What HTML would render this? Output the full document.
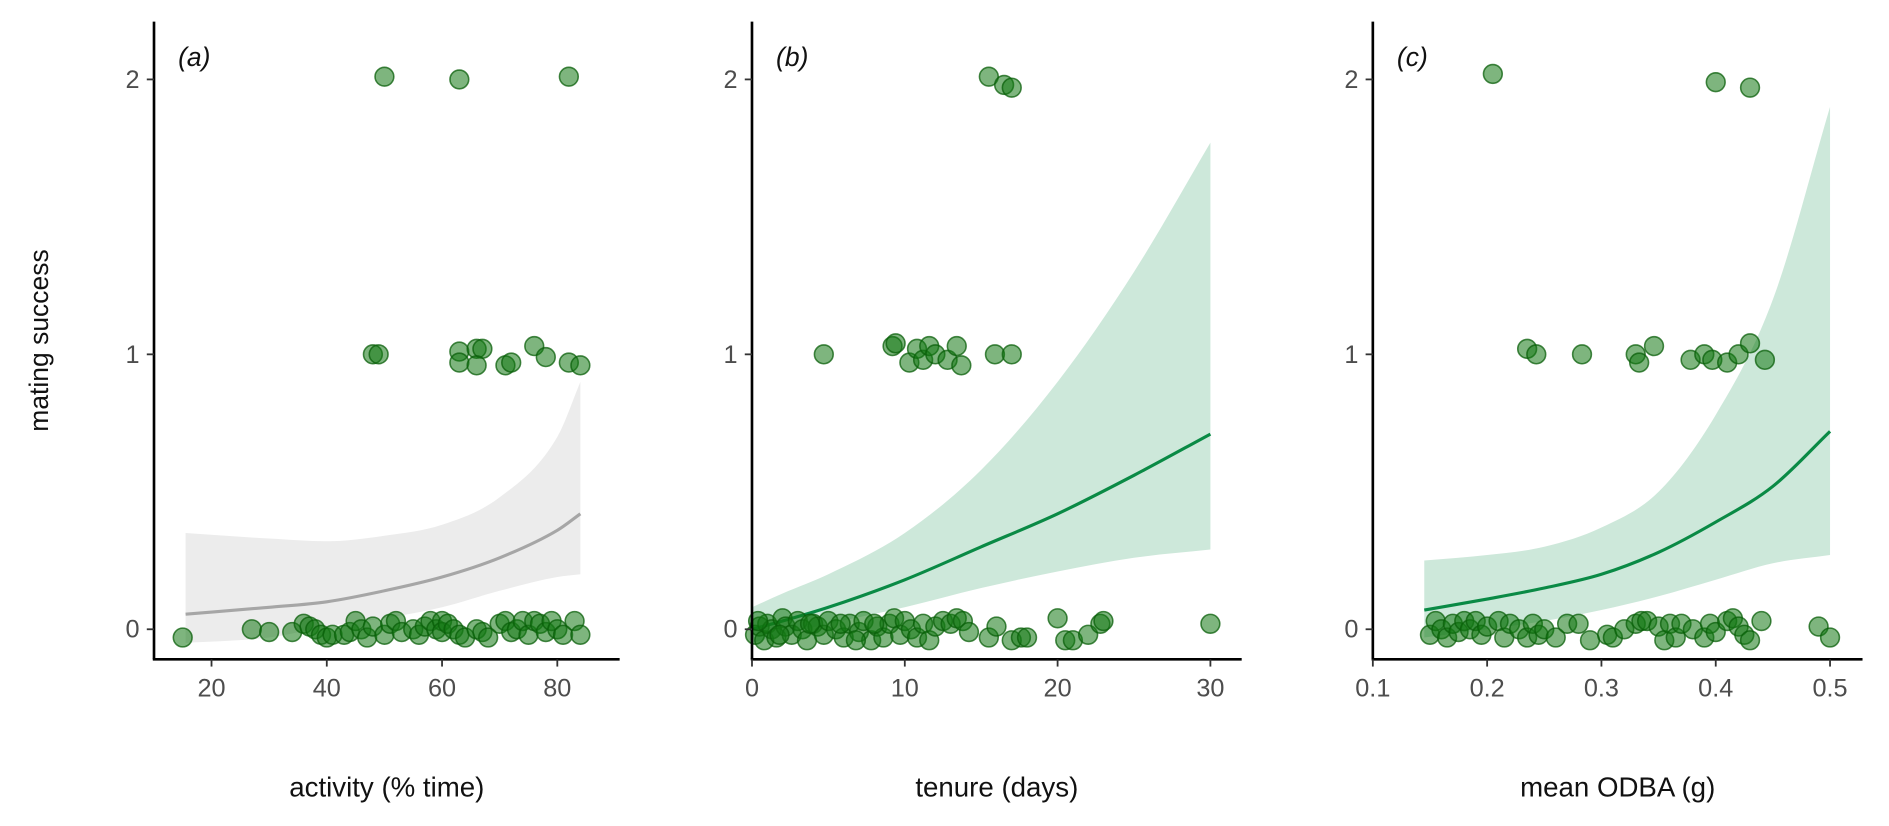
<!DOCTYPE html>
<html><head><meta charset="utf-8">
<style>
html,body{margin:0;padding:0;background:#fff;}
svg{display:block;font-family:"Liberation Sans",sans-serif;}
</style></head>
<body>
<svg id="chart" width="1889" height="826" viewBox="0 0 1570 686.5" xmlns="http://www.w3.org/2000/svg">
<text x="40" y="283" transform="rotate(-90 40 283)" text-anchor="middle" font-size="22" fill="#111">mating success</text>
</svg>
<script>
// ---- Panel (a) data ----
const aPtsX=[50,63,82,48,49,63,63,66,67,66,71,72,76,78,82,84,15,27,30,34,36,37,38,39,40,41,43,44,45,46,47,48,50,51,52,53,55,56,57,58,59,60,60,61,62,63,64,66,67,68,70,71,72,73,74,75,76,77,78,79,80,81,83,84];
const aPtsY=[2.01,2.0,2.01,1.0,1.0,1.01,0.97,1.02,1.02,0.96,0.96,0.97,1.03,0.99,0.97,0.96,-0.03,0.0,-0.01,-0.01,0.02,0.01,0.0,-0.02,-0.03,-0.02,-0.02,-0.01,0.03,0.0,-0.03,0.01,-0.02,0.02,0.03,-0.01,0.0,-0.02,0.01,0.03,0.0,0.03,-0.01,0.02,0.0,-0.02,-0.03,0.0,-0.01,-0.03,0.02,0.03,-0.01,0.0,0.03,-0.02,0.03,0.02,-0.01,0.03,0.0,-0.02,0.03,-0.02];
const aCurveX=[15.5,30,40,50,60,70,80,84];
const aFit=[0.055,0.08,0.10,0.14,0.19,0.26,0.36,0.42];
const aUpper=[0.35,0.33,0.32,0.34,0.38,0.48,0.70,0.90];
const aLower=[-0.05,-0.03,0.01,0.04,0.08,0.14,0.19,0.20];
const aTicks=[20,40,60,80];
// ---- Panel (b) data ----
const bPtsX=[15.5,16.5,17,4.7,9.2,9.4,10.3,10.8,11.2,11.6,12,12.8,13.4,13.7,15.9,17,0.2,0.5,0.8,1,1.3,1.6,2,2.2,2.6,3,3.3,3.6,4,4.3,4.7,5,5.5,6,6.4,7,7.3,7.8,8.2,8.6,9,9.3,9.7,10,10.4,10.8,11.2,11.6,12,12.5,13,13.4,13.8,14.2,15.5,16,17,17.6,18,20,20.5,21,22,22.8,23,30,0.4,1.8,5.8,6.8,8,3.8];
const bPtsY=[2.01,1.98,1.97,1.0,1.03,1.04,0.97,1.02,0.98,1.03,1.0,0.98,1.03,0.96,1.0,1.0,-0.02,0.01,-0.04,0.02,0,-0.03,0.04,0.01,-0.02,0.03,0,-0.04,0.02,0.01,-0.02,0.03,0,-0.03,0.02,-0.01,0.03,-0.04,0.01,-0.03,0.02,0.04,-0.02,0.03,0,-0.03,0.02,-0.04,0.01,0.03,0.02,0.04,0.03,-0.01,-0.03,0.01,-0.04,-0.03,-0.03,0.04,-0.04,-0.04,-0.02,0.02,0.03,0.02,0.03,-0.02,0.02,-0.04,0.02,0.02];
const bCurveX=[0,2,5,10,15,20,25,30];
const bFit=[0.0,0.03,0.08,0.18,0.30,0.42,0.56,0.71];
const bUpper=[0.08,0.13,0.20,0.35,0.58,0.90,1.30,1.77];
const bLower=[-0.05,-0.02,0.02,0.08,0.15,0.21,0.26,0.29];
const bTicks=[0,10,20,30];
// ---- Panel (c) data ----
const cPtsX=[0.205,0.40,0.43,0.235,0.243,0.283,0.33,0.333,0.346,0.378,0.39,0.397,0.41,0.42,0.43,0.443,0.15,0.155,0.16,0.165,0.17,0.175,0.18,0.185,0.19,0.195,0.2,0.21,0.215,0.22,0.228,0.235,0.24,0.245,0.25,0.26,0.27,0.28,0.29,0.305,0.31,0.32,0.33,0.335,0.34,0.35,0.355,0.36,0.365,0.37,0.38,0.39,0.395,0.4,0.41,0.415,0.42,0.425,0.43,0.44,0.49,0.5];
const cPtsY=[2.02,1.99,1.97,1.02,1.0,1.0,1.0,0.97,1.03,0.98,1.0,0.98,0.97,1.0,1.04,0.98,-0.02,0.03,0,-0.03,0.02,-0.01,0.03,0,0.03,-0.02,0.01,0.03,-0.03,0.02,0.0,-0.03,0.02,-0.02,0,-0.03,0.02,0.02,-0.04,-0.02,-0.03,0,0.02,0.03,0.03,0.01,-0.04,0.02,-0.03,0.02,0,-0.03,0.02,-0.01,0.03,0.04,0.01,-0.02,-0.04,0.03,0.01,-0.03];
const cCurveX=[0.145,0.2,0.25,0.3,0.35,0.4,0.45,0.5];
const cFit=[0.07,0.11,0.15,0.20,0.28,0.39,0.52,0.72];
const cUpper=[0.25,0.27,0.30,0.37,0.50,0.78,1.20,1.90];
const cLower=[-0.03,0.0,0.03,0.07,0.12,0.18,0.24,0.27];
const cTicks=[0.1,0.2,0.3,0.4,0.5];
const yTicks=[0,1,2];

const NS="http://www.w3.org/2000/svg";
const svg=document.getElementById('chart');
function mk(tag,attrs,parent){const e=document.createElementNS(NS,tag);for(const k in attrs)e.setAttribute(k,attrs[k]);(parent||svg).appendChild(e);return e;}
const yScale=v=>523-228.5*v;

function smoothPath(xs,ys,sx){
  const pts=xs.map((x,i)=>[sx(x),yScale(ys[i])]);
  const n=pts.length, m=[];
  const dl=[];
  for(let i=0;i<n-1;i++) dl.push((pts[i+1][1]-pts[i][1])/(pts[i+1][0]-pts[i][0]));
  for(let i=0;i<n;i++){
    if(i===0) m.push(dl[0]); else if(i===n-1) m.push(dl[n-2]);
    else m.push(dl[i-1]*dl[i]<=0?0:(dl[i-1]+dl[i])/2);
  }
  let d='M'+pts[0][0]+','+pts[0][1];
  for(let i=0;i<n-1;i++){
    const h=(pts[i+1][0]-pts[i][0])/3;
    d+=' C'+(pts[i][0]+h)+','+(pts[i][1]+m[i]*h)+' '+(pts[i+1][0]-h)+','+(pts[i+1][1]-m[i+1]*h)+' '+pts[i+1][0]+','+pts[i+1][1];
  }
  return d;
}
function revPath(xs,ys,sx){
  const rx=xs.slice().reverse(),ry=ys.slice().reverse();
  return smoothPath(rx,ry,sx).replace(/^M/,'L');
}

function panel(cfg){
  const g=mk('g',{});
  
  
  const clip=mk('clipPath',{id:'clip-'+cfg.id},g);
  mk('rect',{x:cfg.x0,y:18,width:cfg.x1-cfg.x0,height:530},clip);
  const band=mk('path',{d:smoothPath(cfg.cx,cfg.up,cfg.sx)+' '+revPath(cfg.cx,cfg.lo,cfg.sx)+' Z',fill:cfg.band,'clip-path':'url(#clip-'+cfg.id+')'},g);
  
  
  const line=mk('path',{d:smoothPath(cfg.cx,cfg.fit,cfg.sx),fill:'none',stroke:cfg.line,'stroke-width':2.6},g);
  
  
  cfg.px.forEach((x,i)=>{
    const c=mk('circle',{cx:cfg.sx(x),cy:yScale(cfg.py[i]),r:7.8,fill:'rgba(20,120,20,0.55)',stroke:'rgba(10,95,10,0.75)','stroke-width':1.3},g);
    
    
  });
  mk('line',{x1:cfg.x0,y1:18,x2:cfg.x0,y2:548,stroke:'#000','stroke-width':2.2},g);
  mk('line',{x1:cfg.x0-1,y1:548,x2:cfg.x1,y2:548,stroke:'#000','stroke-width':2.2},g);
  yTicks.forEach(t=>{
    const y=yScale(t);
    mk('line',{x1:cfg.x0-6,y1:y,x2:cfg.x0,y2:y,stroke:'#333','stroke-width':1.5},g);
    const tx=mk('text',{x:cfg.x0-12,y:y+7,'text-anchor':'end','font-size':21,fill:'#4d4d4d'},g);
    tx.textContent=t;
    
    
  });
  cfg.ticks.forEach(t=>{
    const x=cfg.sx(t);
    mk('line',{x1:x,y1:548,x2:x,y2:554,stroke:'#333','stroke-width':1.5},g);
    const tx=mk('text',{x:x,y:579,'text-anchor':'middle','font-size':21,fill:'#4d4d4d'},g);
    tx.textContent=cfg.fmt?cfg.fmt(t):t;
    
    
  });
  const ti=mk('text',{x:(cfg.x0+cfg.x1)/2,y:662,'text-anchor':'middle','font-size':23,fill:'#111'},g);
  ti.textContent=cfg.title;
  
  
  const lb=mk('text',{x:cfg.x0+20,y:55,'font-size':22,'font-style':'italic',fill:'#111'},g);
  lb.textContent='('+cfg.id+')';
  
  
}
panel({id:'a',x0:128,x1:515,sx:v=>80+4.79*v,px:aPtsX,py:aPtsY,cx:aCurveX,fit:aFit,up:aUpper,lo:aLower,ticks:aTicks,band:'#ececec',line:'#a6a6a6',title:'activity (% time)'});
panel({id:'b',x0:625,x1:1032,sx:v=>625+12.7*v,px:bPtsX,py:bPtsY,cx:bCurveX,fit:bFit,up:bUpper,lo:bLower,ticks:bTicks,band:'#cde8da',line:'#0a8a45',title:'tenure (days)'});
panel({id:'c',x0:1141,x1:1548,sx:v=>1141+950*(v-0.1),px:cPtsX,py:cPtsY,cx:cCurveX,fit:cFit,up:cUpper,lo:cLower,ticks:cTicks,band:'#cde8da',line:'#0a8a45',title:'mean ODBA (g)',fmt:t=>t.toFixed(1)});
</script>
</body></html>
